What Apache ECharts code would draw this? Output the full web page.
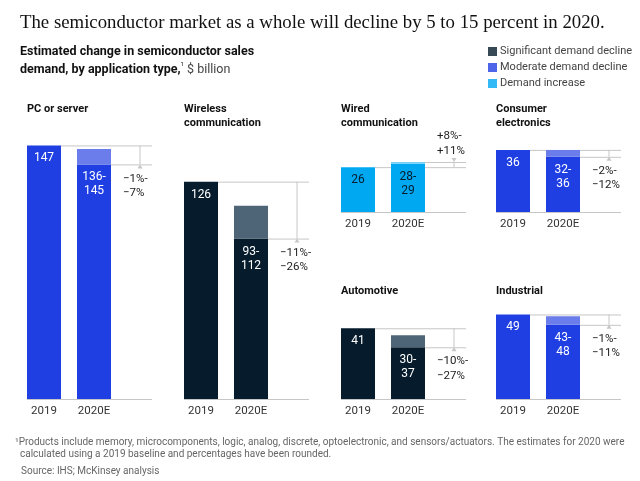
<!DOCTYPE html>
<html>
<head>
<meta charset="utf-8">
<script src="https://cdn.jsdelivr.net/npm/echarts@6/dist/echarts.min.js"></script>
<style>html,body{margin:0;padding:0;background:#fff}#c{width:640px;height:481px}</style>
</head>
<body>
<div id="c"></div>
<script>
// ---- data ----
const panels = ['PC or server', 'Wireless\ncommunication', 'Wired\ncommunication', 'Consumer\nelectronics', 'Automotive', 'Industrial'];
const demandType = ['moderate', 'significant', 'increase', 'moderate', 'significant', 'moderate'];
const years = ['2019', '2020E'];
const sales2019 = [147, 126, 26, 36, 41, 49];
const est2020Low = [136, 93, 28, 32, 30, 43];
const est2020High = [145, 112, 29, 36, 37, 48];
const changeA = ['\u22121%', '\u221211%', '+8%', '\u22122%', '\u221210%', '\u22121%'];
const changeB = ['\u22127%', '\u221226%', '+11%', '\u221212%', '\u221227%', '\u221211%'];
const legendNames = ['Significant demand decline', 'Moderate demand decline', 'Demand increase'];
const legendTypes = ['significant', 'moderate', 'increase'];

// ---- style / layout ----
const PX = 1.725; // pixels per $ billion, shared by all panels
const colors = {
  significant: { base: '#061C2C', light: '#4E6577', label: '#ffffff' },
  moderate: { base: '#1F3FE3', light: '#6A7DEB', label: '#ffffff' },
  increase: { base: '#00A8F2', light: '#6FD0F8', label: '#061C2C' }
};
const layout = [
  { left: 19, top: 140, bottom: 399, titleTop: 97 },
  { left: 176, top: 140, bottom: 399, titleTop: 97 },
  { left: 333, top: 140, bottom: 212, titleTop: 97 },
  { left: 488, top: 140, bottom: 212, titleTop: 97 },
  { left: 333, top: 300, bottom: 399, titleTop: 279 },
  { left: 488, top: 300, bottom: 399, titleTop: 279 }
];
const FONT = 'Roboto, "Liberation Sans", sans-serif';
const LINE = '#C6C6C6';

const grids = [], xAxes = [], yAxes = [], series = [], titles = [];

titles.push({
  text: 'The semiconductor market as a whole will decline by 5 to 15 percent in 2020.',
  left: 15, top: 9,
  textStyle: { fontFamily: '"Liberation Serif", "DejaVu Serif", serif', fontSize: 18.8, fontWeight: 'normal', color: '#111' }
});
titles.push({
  text: '{b|Estimated change in semiconductor sales}\n{b|demand, by application type,}{s|1}{r| $ billion}',
  left: 15, top: 38,
  textStyle: {
    fontWeight: 'normal',
    rich: {
      b: { fontFamily: FONT, fontSize: 12.5, fontWeight: 'bold', color: '#111', lineHeight: 18 },
      s: { fontFamily: FONT, fontSize: 6, fontWeight: 'normal', color: '#111', verticalAlign: 'top', lineHeight: 18, padding: [0, 0, 7, 0] },
      r: { fontFamily: FONT, fontSize: 12.5, fontWeight: 'normal', color: '#444', lineHeight: 18 }
    }
  }
});
titles.push({
  text: '\u00b9Products include memory, microcomponents, logic, analog, discrete, optoelectronic, and sensors/actuators. The estimates for 2020 were\n  calculated using a 2019 baseline and percentages have been rounded.',
  left: 10, top: 432,
  textStyle: { fontFamily: FONT, fontSize: 10, fontWeight: 'normal', color: '#666', lineHeight: 11.5 }
});
titles.push({
  text: 'Source: IHS; McKinsey analysis',
  left: 16, top: 461,
  textStyle: { fontFamily: FONT, fontSize: 10, fontWeight: 'normal', color: '#666' }
});

panels.forEach((name, i) => {
  const L = layout[i];
  const c = colors[demandType[i]];
  const h = L.bottom - L.top;
  grids.push({ left: L.left, top: L.top, width: 150, height: h });
  xAxes.push({
    type: 'category', gridIndex: i, data: years.concat(['']),
    axisLine: { show: false }, axisTick: { show: false },
    axisLabel: { color: '#333', fontFamily: FONT, fontSize: 11.5, margin: 6 }
  });
  yAxes.push({ type: 'value', gridIndex: i, min: 0, max: h / PX, show: false, splitLine: { show: false } });
  titles.push({
    text: name, left: L.left + 3, top: L.titleTop,
    textStyle: { fontFamily: FONT, fontSize: 11, fontWeight: 'bold', color: '#111', lineHeight: 14 }
  });

  const lbl = { show: true, position: 'insideTop', distance: 6, color: c.label, fontFamily: FONT, fontSize: 12, lineHeight: 14 };
  series.push({
    type: 'bar', xAxisIndex: i, yAxisIndex: i, stack: 's' + i, barWidth: 34, z: 3,
    itemStyle: { color: c.base }, silent: true,
    data: [
      { value: sales2019[i], label: Object.assign({}, lbl, { formatter: String(sales2019[i]) }) },
      { value: est2020Low[i], label: Object.assign({}, lbl, { formatter: est2020Low[i] + '-\n' + est2020High[i] }) },
      '-'
    ]
  });
  series.push({
    type: 'bar', xAxisIndex: i, yAxisIndex: i, stack: 's' + i, barWidth: 34, z: 3,
    itemStyle: { color: c.light }, silent: true,
    data: ['-', est2020High[i] - est2020Low[i], '-']
  });
  series.push({
    type: 'custom', xAxisIndex: i, yAxisIndex: i, z: 1, silent: true,
    data: [[2, sales2019[i], est2020Low[i], est2020High[i], i]],
    renderItem: function (params, api) {
      const v19 = api.value(1), lo = api.value(2), hi = api.value(3), k = api.value(4);
      const up = hi > v19;
      const target = up ? hi : lo;
      const p0 = api.coord([0, 0]);
      const c1 = p0[0], yb = p0[1];
      const c2 = api.coord([1, 0])[0];
      const c3 = api.coord([2, 0])[0];
      const y0 = api.coord([0, v19])[1];
      const yt = api.coord([0, target])[1];
      const xr = c3 + 8, ax = c3 - 4;
      const st = { stroke: LINE, lineWidth: 1 };
      const dir = up ? 1 : -1; // arrow head points toward yt
      return {
        type: 'group',
        children: [
          { type: 'line', shape: { x1: c1 - 17, y1: yb + 0.5, x2: xr, y2: yb + 0.5 }, style: st },
          { type: 'line', shape: { x1: c1 + 17, y1: y0 + 0.5, x2: xr, y2: y0 + 0.5 }, style: st },
          { type: 'line', shape: { x1: c2 + 17, y1: yt + 0.5, x2: xr, y2: yt + 0.5 }, style: st },
          { type: 'line', shape: { x1: ax, y1: y0, x2: ax, y2: yt }, style: st },
          { type: 'polygon', shape: { points: [[ax - 2.5, yt - dir * 4], [ax + 2.5, yt - dir * 4], [ax, yt]] }, style: { fill: LINE } },
          {
            type: 'text', x: c3 - 21, y: up ? yt - 4 : yt + 7,
            style: {
              text: changeA[k] + '-\n' + changeB[k],
              fill: '#222', font: '11.5px ' + FONT, lineHeight: 14.5,
              verticalAlign: up ? 'bottom' : 'top', align: 'left'
            }
          }
        ]
      };
    }
  });
});

legendNames.forEach((n, k) => {
  series.push({ type: 'scatter', name: n, xAxisIndex: 0, yAxisIndex: 0, data: [], itemStyle: { color: colors[legendTypes[k]].base } });
});

const chart = echarts.init(document.getElementById('c'), null, { renderer: 'canvas' });
chart.setOption({
  animation: false,
  title: titles,
  legend: {
    data: legendNames, orient: 'vertical', left: 483, top: 41,
    icon: 'rect', itemWidth: 9, itemHeight: 9, itemGap: 5,
    selectedMode: false,
    textStyle: { fontFamily: FONT, fontSize: 11, color: '#444', padding: [0, 0, 0, -2] }
  },
  grid: grids, xAxis: xAxes, yAxis: yAxes, series: series
});
</script>
</body>
</html>
